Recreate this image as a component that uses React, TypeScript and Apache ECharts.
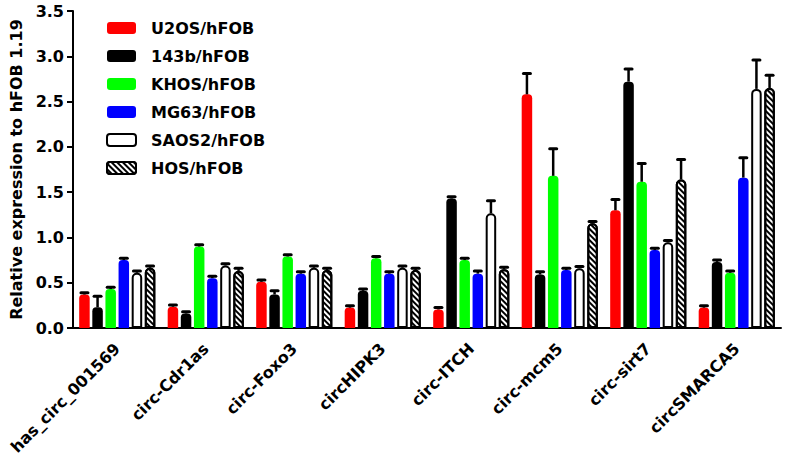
import React, { useEffect, useRef } from 'react';
import * as echarts from 'echarts';

const categories = ['has_circ_001569', 'circ-Cdr1as', 'circ-Foxo3', 'circHIPK3', 'circ-ITCH', 'circ-mcm5', 'circ-sirt7', 'circSMARCA5'];
const seriesNames = ['U2OS/hFOB', '143b/hFOB', 'KHOS/hFOB', 'MG63/hFOB', 'SAOS2/hFOB', 'HOS/hFOB'];

const u2os = [0.37, 0.235, 0.51, 0.225, 0.205, 2.58, 1.30, 0.225];
const u2osErr = [0.02, 0.02, 0.02, 0.02, 0.02, 0.23, 0.12, 0.02];
const b143 = [0.23, 0.16, 0.37, 0.41, 1.43, 0.59, 2.72, 0.73];
const b143Err = [0.12, 0.02, 0.04, 0.02, 0.02, 0.03, 0.14, 0.02];
const khos = [0.43, 0.90, 0.79, 0.77, 0.75, 1.68, 1.615, 0.61];
const khosErr = [0.02, 0.02, 0.02, 0.02, 0.02, 0.30, 0.20, 0.02];
const mg63 = [0.75, 0.55, 0.60, 0.60, 0.60, 0.64, 0.86, 1.66];
const mg63Err = [0.02, 0.02, 0.02, 0.02, 0.03, 0.02, 0.02, 0.22];
const saos2 = [0.61, 0.69, 0.665, 0.665, 1.266, 0.66, 0.946, 2.64];
const saos2Err = [0.02, 0.02, 0.02, 0.02, 0.14, 0.02, 0.02, 0.32];
const hos = [0.665, 0.63, 0.64, 0.64, 0.65, 1.156, 1.64, 2.65];
const hosErr = [0.02, 0.03, 0.02, 0.02, 0.02, 0.02, 0.22, 0.14];

const yMin = 0;
const yMax = 3.5;
const yInterval = 0.5;

const values = [u2os, b143, khos, mg63, saos2, hos];
const errors = [u2osErr, b143Err, khosErr, mg63Err, saos2Err, hosErr];

const FONT = '"DejaVu Sans", Arial, sans-serif';
const BAR_W = 10.5;
const GAP_RATIO = 0.25;

export default function App() {
  const ref = useRef<HTMLDivElement>(null);
  useEffect(() => {
    if (!ref.current) return;
    const chart = echarts.init(ref.current, null, { renderer: 'svg' });

    const styles: any[] = [
      { color: '#ff0000', borderRadius: [4, 4, 0, 0] },
      { color: '#000000', borderRadius: [4, 4, 0, 0] },
      { color: '#00ff00', borderRadius: [4, 4, 0, 0] },
      { color: '#0000ff', borderRadius: [4, 4, 0, 0] },
      { color: '#ffffff', borderColor: '#000', borderWidth: 2, borderRadius: [4, 4, 0, 0] },
      {
        color: '#ffffff', borderColor: '#000', borderWidth: 2, borderRadius: [4, 4, 0, 0],
        decal: {
          symbol: 'rect', symbolSize: 1, dashArrayX: [1, 0], dashArrayY: [1.5, 2],
          rotation: Math.PI / 4, color: '#000', backgroundColor: '#ffffff',
        },
      },
    ];

    const barSeries = seriesNames.map((name, i) => ({
      name,
      type: 'bar',
      data: values[i],
      barWidth: BAR_W,
      barGap: GAP_RATIO * 100 + '%',
      itemStyle: styles[i],
      z: 2,
    }));

    const errData: number[][] = [];
    values.forEach((arr, s) => arr.forEach((v, c) => errData.push([c, v, errors[s][c], s])));

    const pitch = BAR_W * (1 + GAP_RATIO);

    const errSeries = {
      type: 'custom',
      name: 'err',
      z: 5,
      silent: true,
      encode: { x: 0, y: 1 },
      data: errData,
      renderItem: (params: any, api: any) => {
        const c = api.value(0);
        const v = api.value(1);
        const e = api.value(2);
        const s = api.value(3);
        const p0 = api.coord([c, v]);
        const p1 = api.coord([c, v + e]);
        const x = p0[0] + (s - 2.5) * pitch;
        return {
          type: 'group',
          children: [
            { type: 'line', shape: { x1: x, y1: p0[1], x2: x, y2: p1[1] }, style: { stroke: '#000', lineWidth: 2.5 } },
            { type: 'line', shape: { x1: x - 3.5, y1: p1[1], x2: x + 3.5, y2: p1[1] }, style: { stroke: '#000', lineWidth: 3, lineCap: 'round' } },
          ],
        };
      },
    };

    chart.setOption({
      animation: false,
      backgroundColor: '#fff',
      textStyle: { fontFamily: FONT },
      grid: { left: 73, right: 11, top: 11, bottom: 138, containLabel: false },
      legend: {
        orient: 'vertical',
        left: 106,
        top: 20,
        padding: 0,
        itemWidth: 29,
        itemHeight: 12,
        itemGap: 12,
        icon: 'roundRect',
        data: seriesNames,
        textStyle: { fontFamily: FONT, fontWeight: 'bold', fontSize: 16, lineHeight: 16, color: '#000', padding: [0, 0, 0, 10] },
      },
      xAxis: {
        type: 'category',
        data: categories,
        axisLine: { lineStyle: { color: '#000', width: 2 } },
        axisTick: { alignWithLabel: true, length: 6, lineStyle: { color: '#000', width: 2 } },
        axisLabel: { rotate: 45, color: '#000', fontWeight: 'bold', fontSize: 16, fontFamily: FONT, margin: 18, interval: 0 },
      },
      yAxis: {
        type: 'value',
        min: yMin,
        max: yMax,
        interval: yInterval,
        name: 'Relative expression to hFOB 1.19',
        nameLocation: 'middle',
        nameGap: 47,
        nameTextStyle: { color: '#000', fontWeight: 'bold', fontSize: 16, fontFamily: FONT },
        axisLine: { show: true, lineStyle: { color: '#000', width: 2 } },
        axisTick: { show: true, length: 6, lineStyle: { color: '#000', width: 2 } },
        splitLine: { show: false },
        axisLabel: {
          color: '#000', fontWeight: 'bold', fontSize: 16, fontFamily: FONT, margin: 9,
          formatter: (v: number) => v.toFixed(1),
        },
      },
      series: [...barSeries, errSeries],
    });
    return () => chart.dispose();
  }, []);
  return <div ref={ref} style={{ position: 'fixed', left: 0, top: 0, width: 792, height: 466 }} />;
}
